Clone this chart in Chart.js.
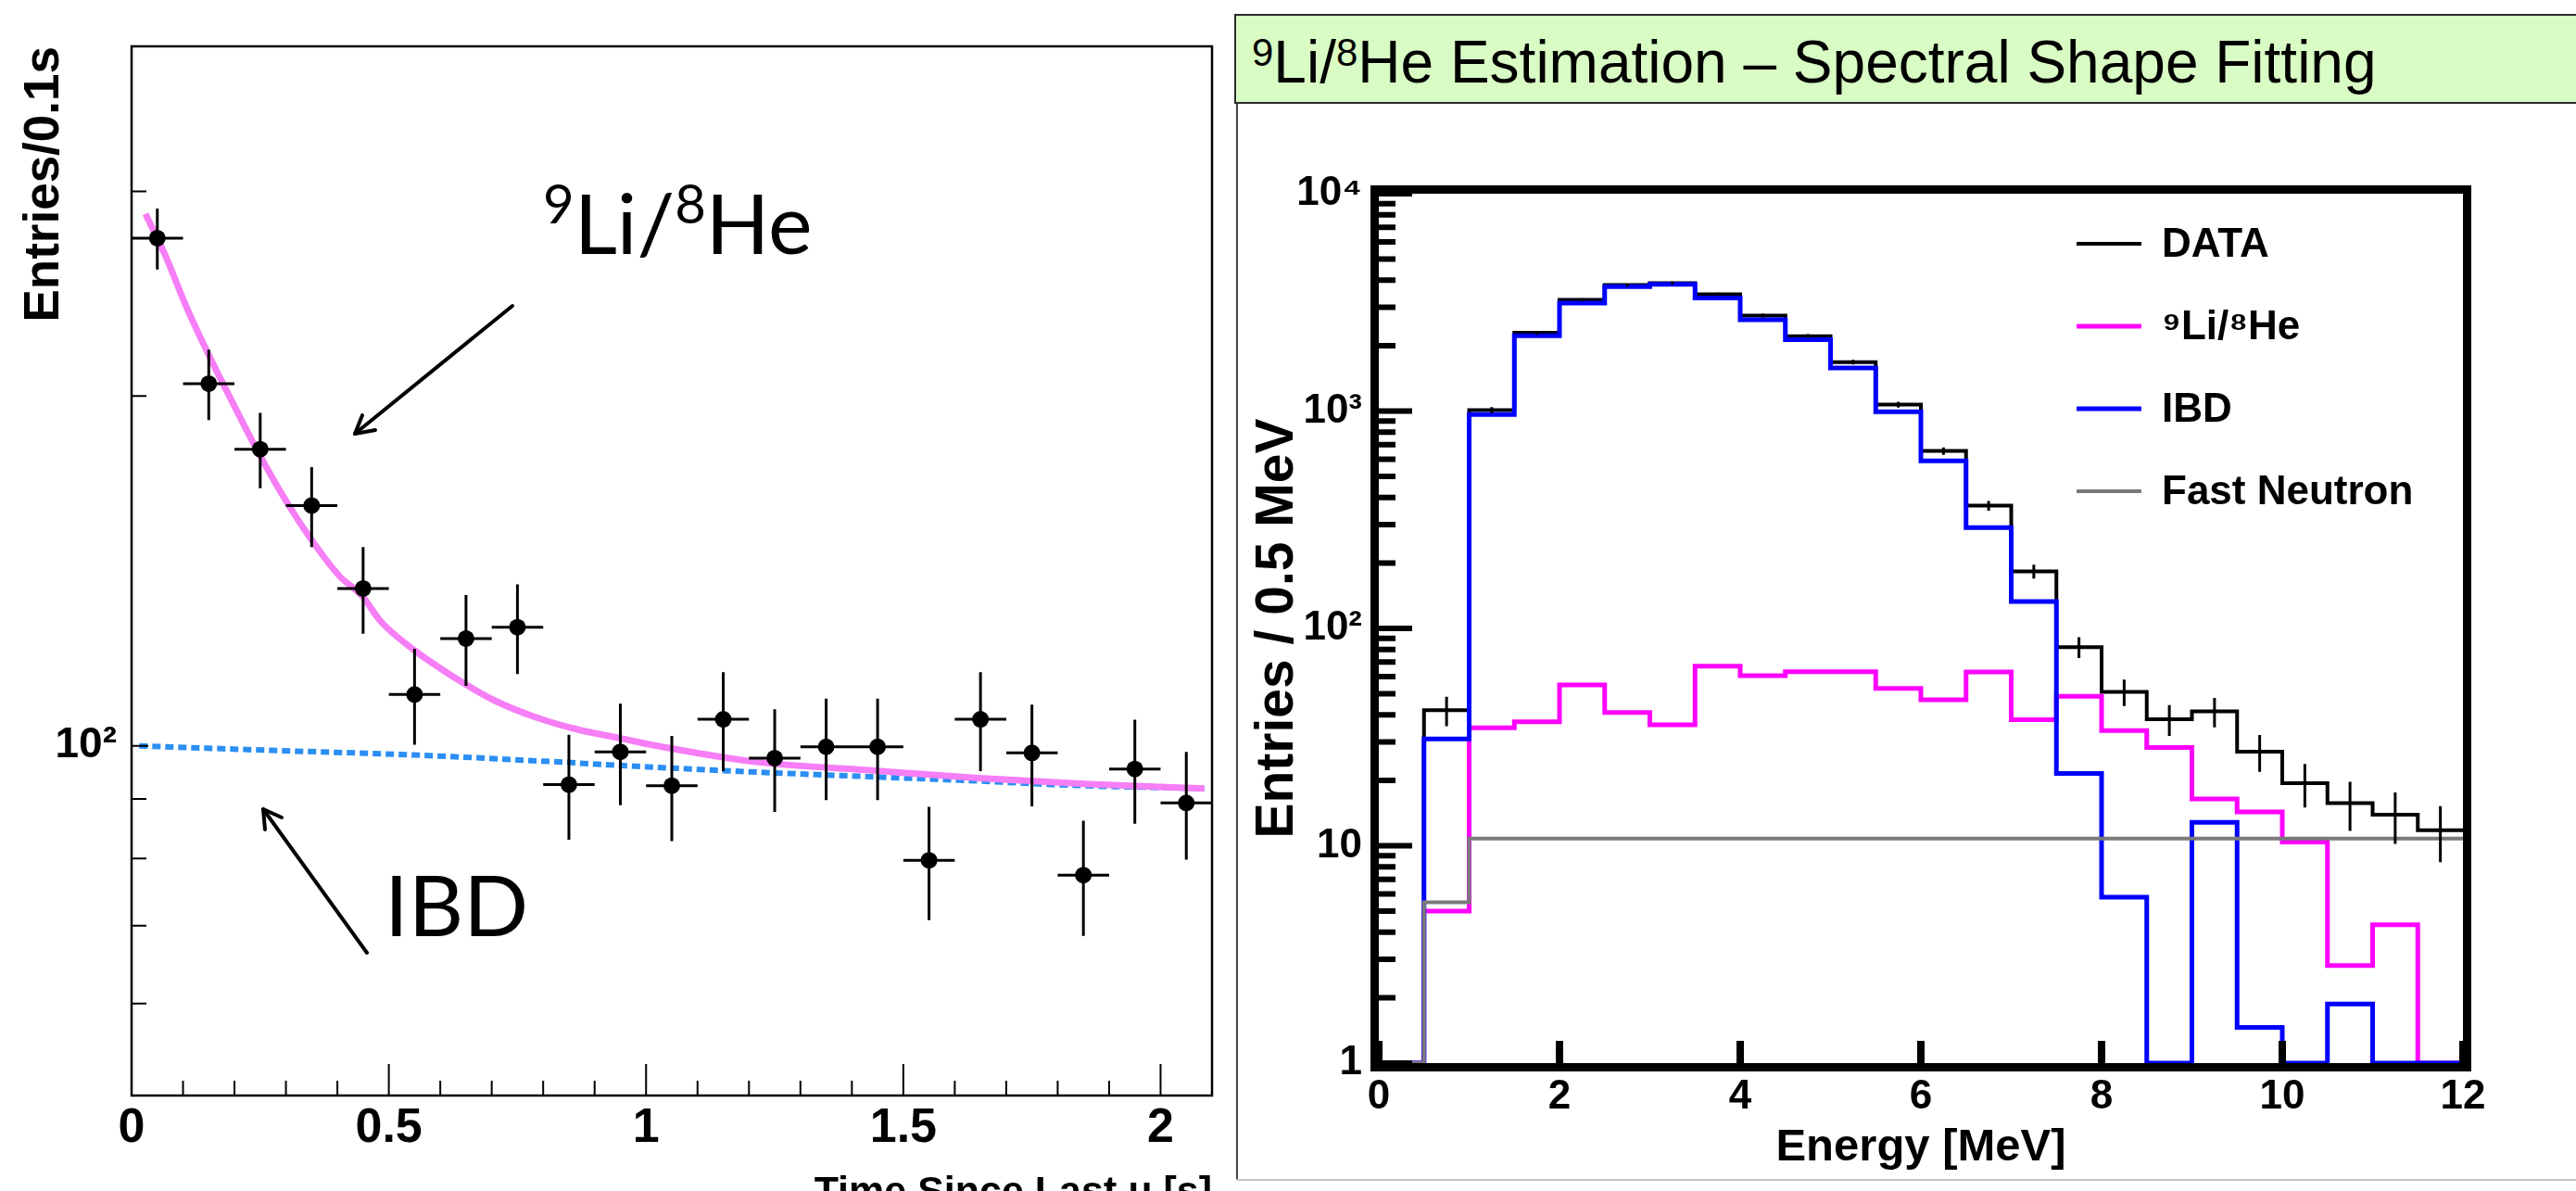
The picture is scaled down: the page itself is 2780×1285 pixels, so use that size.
<!DOCTYPE html>
<html>
<head>
<meta charset="utf-8">
<title>9Li/8He estimation</title>
<script src="https://cdn.jsdelivr.net/npm/chart.js@4.4.1/dist/chart.umd.min.js"></script>
<style>
  html, body { margin: 0; padding: 0; background: #fff; }
  body { width: 2780px; height: 1285px; overflow: hidden; position: relative; }
  canvas { position: absolute; }
  #timeChart { left: 0; top: 0; }
  #energyChart { left: 1336px; top: 120px; }
  .slideTitle { position: absolute; left: 1332px; top: 15px; width: 1470px; height: 97px; box-sizing: border-box;
                background: #d9fbc4; border: 2px solid #2b2b2b; }
  .slideTitleText { position: absolute; left: 1351px; top: 35px; font: 64px 'Liberation Sans', Arial, sans-serif;
                    line-height: 1; white-space: nowrap; color: #000; }
  .slideTitleText .sup { font-size: 42px; vertical-align: 18px; }
  .panelLeft { position: absolute; left: 1334px; top: 112px; width: 2px; height: 1162px; background: #444; }
  .panelBottom { position: absolute; left: 1334px; top: 1272px; width: 1450px; height: 2px; background: #c4c4c4; }
  .note { position: absolute; font-family: Lato, 'Open Sans', sans-serif; line-height: 1; white-space: nowrap; color: #000; }
  .note .sup { font-size: 58px; vertical-align: 33px; }
  svg { position: absolute; left: 0; top: 0; }
</style>
</head>
<body>

<canvas id="timeChart" width="1320" height="1330"></canvas>
<canvas id="energyChart" width="1444" height="1160"></canvas>

<div class="slideTitle"></div>
<div class="slideTitleText"><span class="sup">9</span>Li/<span class="sup">8</span>He Estimation – Spectral Shape Fitting</div>
<div class="panelLeft"></div>
<div class="panelBottom"></div>

<div class="note" style="left:586px; top:190px; font-size:90px;"><span class="sup">9</span>Li/<span class="sup">8</span>He</div>
<div class="note" style="left:415px; top:929px; font-size:92px;">IBD</div>

<svg width="2780" height="1285">
  <g stroke="#000" stroke-width="4" fill="none" stroke-linecap="round" stroke-linejoin="round">
    <line x1="553" y1="330" x2="383" y2="468"/>
    <polyline points="405,464 383,468 391,448"/>
    <line x1="396" y1="1028" x2="284" y2="873"/>
    <polyline points="286,895 284,873 304,882"/>
  </g>
</svg>

<script>
// ---------- left panel: time since last muon ----------
const timeBins   = [0.05, 0.15, 0.25, 0.35, 0.45, 0.55, 0.65, 0.75, 0.85, 0.95, 1.05,
                    1.15, 1.25, 1.35, 1.45, 1.55, 1.65, 1.75, 1.85, 1.95, 2.05];
const timeCounts = [273.5, 205, 180, 161, 136.6, 110.7, 123.7, 126.5, 92.6, 98.8, 92.4,
                    105.4, 97.6, 99.8, 99.8, 79.7, 105.4, 98.6, 77.4, 95.5, 89.3];
const timeErrors = [16.5, 14.3, 13.4, 12.7, 11.7, 10.5, 11.1, 11.2, 9.6, 9.9, 9.6,
                    10.3, 9.9, 10, 10, 8.9, 10.3, 9.9, 8.8, 9.8, 9.5];
const timeHalfBin = 0.05;

// fitted total (9Li/8He + IBD)
const fitT = [0.027, 0.066, 0.106, 0.150, 0.195, 0.243, 0.291, 0.347, 0.404, 0.448, 0.484, 0.548,
              0.629, 0.709, 0.789, 0.870, 0.951, 1.005, 1.219, 1.432, 1.647, 1.861, 2.085];
const fitN = [287, 264, 239, 217, 198, 180, 165, 151, 140, 134.6, 128, 121,
              114.4, 109.2, 105.7, 103.2, 101.5, 100.3, 96.8, 95.3, 93.8, 92.7, 91.9];

// IBD-only component (dotted blue)
const ibdT = [0.015, 0.27, 0.548, 0.8, 1.005, 1.219, 1.45, 1.611, 1.85, 2.085];
const ibdN = [100, 99.1, 98.2, 97, 95.9, 94.9, 94, 93.4, 92.4, 91.9];

const timeTicks     = [0, 0.1, 0.2, 0.3, 0.4, 0.5, 0.6, 0.7, 0.8, 0.9, 1, 1.1, 1.2, 1.3, 1.4,
                       1.5, 1.6, 1.7, 1.8, 1.9, 2, 2.1];
const timeMajor     = [0, 0.5, 1, 1.5, 2];
const timeLabels    = ['0', '0.5', '1', '1.5', '2'];
const entriesTicks  = [50, 60, 70, 80, 90, 100, 200, 300, 400];
const entriesMajor  = [100];
const entriesLabels = ['10²'];

// ---------- right panel: energy spectrum ----------
const energyEdges = [0, 0.5, 1, 1.5, 2, 2.5, 3, 3.5, 4, 4.5, 5, 5.5, 6, 6.5, 7, 7.5, 8,
                     8.5, 9, 9.5, 10, 10.5, 11, 11.5, 12];
const energyCenters = [0.25, 0.75, 1.25, 1.75, 2.25, 2.75, 3.25, 3.75, 4.25, 4.75, 5.25, 5.75,
                       6.25, 6.75, 7.25, 7.75, 8.25, 8.75, 9.25, 9.75, 10.25, 10.75, 11.25, 11.75];
const dataCounts  = [1, 42, 1010, 2290, 3250, 3800, 3880, 3450, 2750, 2210, 1680, 1070,
                     655, 367, 183, 82, 51, 38.2, 41.5, 27.1, 19.4, 15.7, 13.9, 11.8];
const dataErrors  = [null, 6.5, 32, 48, 57, 62, 62, 59, 52, 47, 41, 33,
                     25.5, 19, 13.6, 9, 7.1, 6.2, 6.4, 5.2, 4.4, 4, 3.7, 3.4];
const liHeCounts  = [1, 5.0, 34.9, 37.2, 55, 41, 36, 67, 60.6, 63.2, 63.2, 53,
                     47, 63, 38, 48.7, 33.9, 28.3, 16.4, 14.3, 10.4, 2.81, 4.33, 1];
const ibdCounts   = [1, 31, 965, 2220, 3140, 3740, 3830, 3310, 2630, 2130, 1580, 993,
                     590, 291, 133, 21.5, 5.8, 1, 12.8, 1.46, 1, 1.87, 1, 1];
const fastNCounts = [1, 5.5, 10.8, 10.8, 10.8, 10.8, 10.8, 10.8, 10.8, 10.8, 10.8, 10.8,
                     10.8, 10.8, 10.8, 10.8, 10.8, 10.8, 10.8, 10.8, 10.8, 10.8, 10.8, 10.8];

const energyTicks   = [0, 2, 4, 6, 8, 10, 12];
const energyLabels  = ['0', '2', '4', '6', '8', '10', '12'];
const spectrumTicks = [1, 2, 3, 4, 5, 6, 7, 8, 9, 10, 20, 30, 40, 50, 60, 70, 80, 90,
                       100, 200, 300, 400, 500, 600, 700, 800, 900,
                       1000, 2000, 3000, 4000, 5000, 6000, 7000, 8000, 9000, 10000];
const spectrumMajor  = [1, 10, 100, 1000, 10000];
const spectrumLabels = ['1', '10', '10²', '10³', '10⁴'];

const rootFont = "'Liberation Sans', Arial, sans-serif";

// ROOT-like frame, inward ticks, error bars and legend
const rootStyle = {
  id: 'rootStyle',
  afterDatasetsDraw(chart, args, o) {
    const {ctx, chartArea: a} = chart;
    const xs = chart.scales.x, ys = chart.scales.y;
    ctx.save();
    ctx.strokeStyle = '#000';
    ctx.lineCap = 'butt';

    (o.errorBars || []).forEach(eb => {
      ctx.lineWidth = eb.width;
      ctx.beginPath();
      eb.x.forEach((xv, i) => {
        const yv = eb.y[i], e = eb.err[i];
        if (e == null) return;
        const px = xs.getPixelForValue(xv);
        ctx.moveTo(px, ys.getPixelForValue(yv + e));
        ctx.lineTo(px, ys.getPixelForValue(Math.max(yv - e, ys.min)));
        if (eb.halfWidth) {
          const py = ys.getPixelForValue(yv);
          ctx.moveTo(xs.getPixelForValue(xv - eb.halfWidth), py);
          ctx.lineTo(xs.getPixelForValue(xv + eb.halfWidth), py);
        }
      });
      ctx.stroke();
    });

    // frame sits just outside the plotting area, as in ROOT
    const f = o.frameWidth / 2;
    ctx.lineWidth = o.frameWidth;
    ctx.strokeRect(a.left - f + o.frameInset, a.top - f + o.frameInset,
                   a.right - a.left + 2 * (f - o.frameInset), a.bottom - a.top + 2 * (f - o.frameInset));

    ctx.lineWidth = o.xTickWidth;
    ctx.beginPath();
    xs.ticks.forEach(t => {
      const px = xs.getPixelForValue(t.value);
      const len = o.xMajor.includes(t.value) ? o.xMajorLen : o.xMinorLen;
      ctx.moveTo(px, a.bottom);
      ctx.lineTo(px, a.bottom - len);
    });
    ctx.stroke();

    ctx.lineWidth = o.yTickWidth;
    ctx.beginPath();
    ys.ticks.forEach(t => {
      const py = ys.getPixelForValue(t.value);
      const len = o.yMajor.includes(t.value) ? o.yMajorLen : o.yMinorLen;
      ctx.moveTo(a.left, py);
      ctx.lineTo(a.left + len, py);
    });
    ctx.stroke();

    if (o.legend) {
      const L = o.legend;
      ctx.font = L.font;
      ctx.textBaseline = 'middle';
      ctx.textAlign = 'left';
      ctx.fillStyle = '#000';
      chart.data.datasets.forEach((ds, i) => {
        const y = a.top + L.y0 + i * L.dy;
        ctx.strokeStyle = ds.borderColor;
        ctx.lineWidth = ds.borderWidth;
        ctx.beginPath();
        ctx.moveTo(a.left + L.x0, y);
        ctx.lineTo(a.left + L.x1, y);
        ctx.stroke();
        ctx.fillText(ds.label, a.left + L.xText, y + 2);
      });
    }
    ctx.restore();
  }
};

function fixedTicks(values) {
  return scale => { scale.ticks = values.map(v => ({value: v})); };
}
function labelFor(values, labels) {
  return v => {
    const i = values.indexOf(v);
    return i >= 0 ? labels[i] : '';
  };
}

Chart.defaults.color = '#000';
Chart.defaults.font.family = rootFont;

// ---------- left chart ----------
new Chart(document.getElementById('timeChart'), {
  type: 'scatter',
  data: {
    datasets: [
      {
        label: 'data',
        data: timeBins.map((t, i) => ({x: t, y: timeCounts[i]})),
        pointRadius: 9,
        pointBackgroundColor: '#000',
        pointBorderWidth: 0,
        order: 0
      },
      {
        type: 'line',
        label: 'fit',
        data: fitT.map((t, i) => ({x: t, y: fitN[i]})),
        borderColor: '#f67ef6',
        borderWidth: 7,
        pointRadius: 0,
        cubicInterpolationMode: 'monotone',
        order: 1
      },
      {
        type: 'line',
        label: 'IBD',
        data: ibdT.map((t, i) => ({x: t, y: ibdN[i]})),
        borderColor: '#2b8ef2',
        borderWidth: 6,
        borderDash: [9, 5],
        pointRadius: 0,
        cubicInterpolationMode: 'monotone',
        order: 2
      }
    ]
  },
  options: {
    responsive: false,
    animation: false,
    events: [],
    layout: {padding: {left: 0, right: 12, top: 50, bottom: 0}},
    plugins: {
      legend: {display: false},
      tooltip: {enabled: false},
      rootStyle: {
        frameWidth: 2.5, frameInset: 1.25,
        xTickWidth: 2, yTickWidth: 2,
        xMajor: timeMajor, xMajorLen: 34, xMinorLen: 16,
        yMajor: entriesMajor, yMajorLen: 18, yMinorLen: 16,
        errorBars: [{x: timeBins, y: timeCounts, err: timeErrors, halfWidth: timeHalfBin, width: 3}]
      }
    },
    scales: {
      x: {
        type: 'linear', min: 0, max: 2.1,
        afterBuildTicks: fixedTicks(timeTicks),
        afterFit: s => { s.height = 148; },
        grid: {display: false, drawTicks: false},
        border: {display: false},
        ticks: {
          autoSkip: false, maxRotation: 0, padding: 4,
          font: {size: 52, weight: 'bold'},
          callback: labelFor(timeMajor, timeLabels)
        },
        title: {
          display: true, text: 'Time Since Last μ [s]', align: 'end',
          font: {size: 43, weight: 'bold'}, padding: {top: 0, bottom: 17}
        }
      },
      y: {
        type: 'logarithmic', min: 50, max: 400,
        afterBuildTicks: fixedTicks(entriesTicks),
        afterFit: s => { s.width = 142; },
        grid: {display: false, drawTicks: false},
        border: {display: false},
        ticks: {
          autoSkip: false, padding: 16,
          font: {size: 46, weight: 'bold'},
          callback: labelFor(entriesMajor, entriesLabels)
        },
        title: {
          display: true, text: 'Entries/0.1s', align: 'end',
          font: {size: 53, weight: 'bold'}, padding: {top: 17, bottom: 0}
        }
      }
    }
  },
  plugins: [rootStyle]
});

// ---------- right chart ----------
const histPoints = vals => energyEdges.map((e, i) => ({x: e, y: vals[Math.min(i, vals.length - 1)]}));

new Chart(document.getElementById('energyChart'), {
  type: 'scatter',
  data: {
    datasets: [
      {type: 'line', label: 'DATA', data: histPoints(dataCounts), borderColor: '#000000',
       borderWidth: 4, stepped: 'before', pointRadius: 0, order: 3},
      {type: 'line', label: '⁹Li/⁸He', data: histPoints(liHeCounts), borderColor: '#ff00ff',
       borderWidth: 5, stepped: 'before', pointRadius: 0, order: 2},
      {type: 'line', label: 'IBD', data: histPoints(ibdCounts), borderColor: '#0000ff',
       borderWidth: 5, stepped: 'before', pointRadius: 0, order: 1},
      {type: 'line', label: 'Fast Neutron', data: histPoints(fastNCounts), borderColor: '#7a7a7a',
       borderWidth: 4, stepped: 'before', pointRadius: 0, order: 0}
    ]
  },
  options: {
    responsive: false,
    animation: false,
    events: [],
    layout: {padding: {left: 0, right: 122, top: 89, bottom: 0}},
    plugins: {
      legend: {display: false},
      tooltip: {enabled: false},
      rootStyle: {
        frameWidth: 9, frameInset: 0,
        xTickWidth: 8, yTickWidth: 6,
        xMajor: energyTicks, xMajorLen: 24, xMinorLen: 0,
        yMajor: spectrumMajor, yMajorLen: 36, yMinorLen: 18,
        errorBars: [{x: energyCenters, y: dataCounts, err: dataErrors, width: 3}],
        legend: {x0: 753, x1: 823, xText: 845, y0: 54, dy: 89,
                 font: "bold 44px " + rootFont}
      }
    },
    scales: {
      x: {
        type: 'linear', min: 0, max: 12,
        afterBuildTicks: fixedTicks(energyTicks),
        afterFit: s => { s.height = 133; },
        grid: {display: false, drawTicks: false},
        border: {display: false},
        ticks: {
          autoSkip: false, maxRotation: 0, padding: 10,
          font: {size: 44, weight: 'bold'},
          callback: labelFor(energyTicks, energyLabels)
        },
        title: {
          display: true, text: 'Energy [MeV]',
          font: {size: 49, weight: 'bold'}, padding: {top: 0, bottom: 12}
        }
      },
      y: {
        type: 'logarithmic', min: 1, max: 10000,
        afterBuildTicks: fixedTicks(spectrumTicks),
        afterFit: s => { s.width = 152; },
        grid: {display: false, drawTicks: false},
        border: {display: false},
        ticks: {
          autoSkip: false, padding: 18,
          font: {size: 44, weight: 'bold'},
          callback: labelFor(spectrumMajor, spectrumLabels)
        },
        title: {
          display: true, text: 'Entries / 0.5 MeV',
          font: {size: 57, weight: 'bold'}, padding: {top: 9, bottom: 0}
        }
      }
    }
  },
  plugins: [rootStyle]
});
</script>
</body>
</html>
